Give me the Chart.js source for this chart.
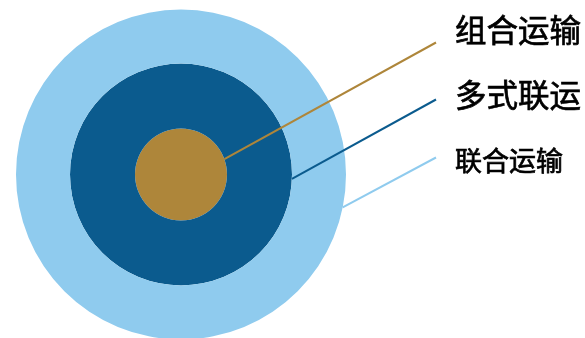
<!DOCTYPE html>
<html>
<head>
<meta charset="utf-8">
<script src="https://cdn.jsdelivr.net/npm/chart.js@4.4.1/dist/chart.umd.min.js"></script>
<style>
    html, body { margin: 0; padding: 0; background: #ffffff; }
    #wrap { width: 585px; height: 338px; position: relative; }
</style>
</head>
<body>
<div id="wrap"><canvas id="chart"></canvas></div>
<script>
// rings from outside to inside
const ringNames = ['联合运输', '多式联运', '组合运输'];
const ringValues = [1, 1, 1];
const ringThickness = [54, 65, 46];   // outer radius 165, middle 111, inner 46
const ringColors = ['#8FCBEE', '#0B5B8E', '#AE863A'];

// where each leader line leaves its ring (degrees, clockwise from 3 o'clock)
const leaderAngles = [11.5, 2.3, -19.5];
const leaderEndX = 436;
const leaderEndY = [157.5, 99.5, 42.5];
const labelX = 455;
const labelY = [160.5, 95.5, 30.5];
const labelSizes = [27, 31.5, 31.5];

const leaderPlugin = {
    id: 'leaders',
    afterDatasetsDraw(chart) {
        const ctx = chart.ctx;
        ctx.save();
        chart.data.datasets.forEach((ds, i) => {
            const arc = chart.getDatasetMeta(i).data[0];
            if (!arc) return;
            const a = leaderAngles[i] * Math.PI / 180;
            const sx = arc.x + arc.outerRadius * Math.cos(a);
            const sy = arc.y + arc.outerRadius * Math.sin(a);
            ctx.strokeStyle = ringColors[i];
            ctx.lineWidth = 2;
            ctx.beginPath();
            ctx.moveTo(sx, sy);
            ctx.lineTo(leaderEndX, leaderEndY[i]);
            ctx.stroke();

            // labels are a touch heavier than regular weight in the original
            ctx.fillStyle = '#000000';
            ctx.strokeStyle = '#000000';
            ctx.lineWidth = 0.7;
            ctx.font = labelSizes[i] + 'px "Noto Sans CJK SC"';
            ctx.textAlign = 'left';
            ctx.textBaseline = 'middle';
            ctx.fillText(ringNames[i], labelX, labelY[i]);
            ctx.strokeText(ringNames[i], labelX, labelY[i]);
        });
        ctx.restore();
    }
};

const datasets = ringNames.map((name, i) => ({
    label: name,
    data: [ringValues[i]],
    weight: ringThickness[i],
    backgroundColor: ringColors[i],
    borderWidth: 0,
    hoverOffset: 0,
    clip: false
}));

new Chart(document.getElementById('chart'), {
    type: 'doughnut',
    data: {
        labels: ['all'],
        datasets: datasets
    },
    options: {
        responsive: true,
        maintainAspectRatio: false,
        animation: false,
        cutout: 0,
        radius: 165,
        layout: {
            padding: { left: 16, right: 239, top: 11, bottom: 0 }
        },
        events: [],
        plugins: {
            legend: { display: false },
            tooltip: { enabled: false }
        }
    },
    plugins: [leaderPlugin]
});
</script>
</body>
</html>
